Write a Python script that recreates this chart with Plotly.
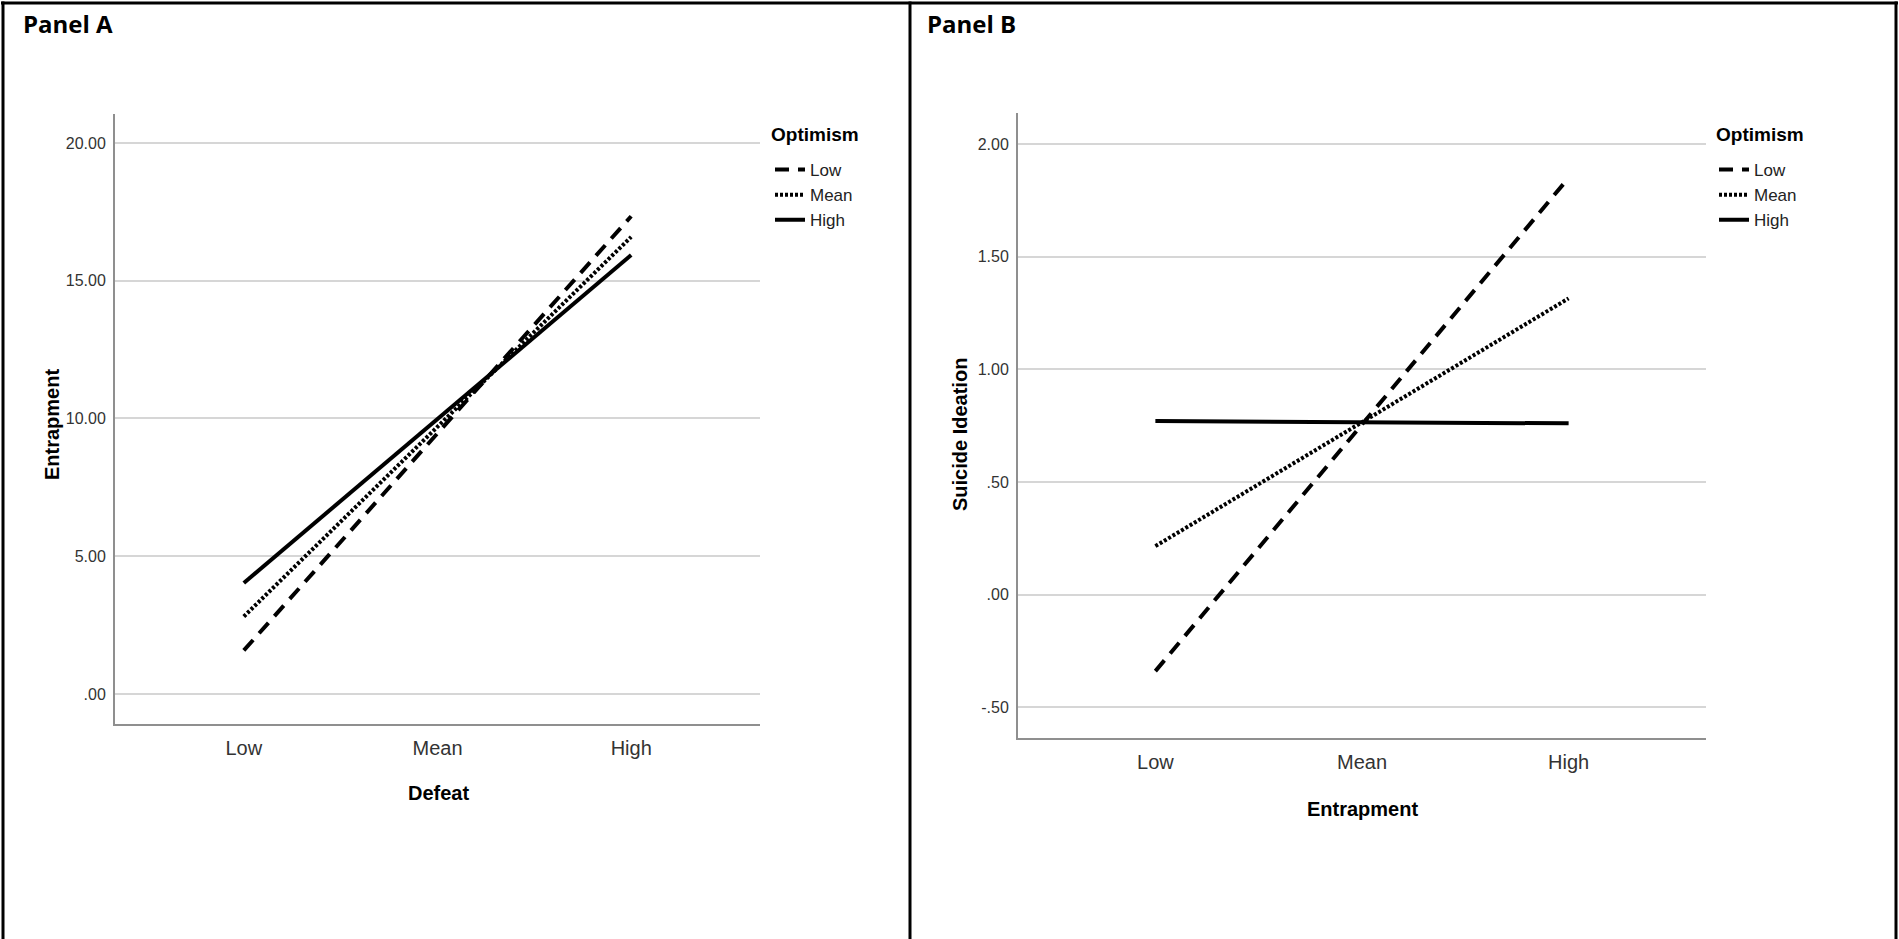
import plotly.graph_objects as go

W, H = 1899, 939

# Simple-slopes data: predicted outcome at Low / Mean / High of the predictor,
# one line per level of the moderator (Optimism)
levels = ["Low", "Mean", "High"]
optimism_groups = ["Low", "Mean", "High"]

# Panel A: Defeat -> Entrapment
entrap_low_opt = [1.58, 9.46, 17.34]
entrap_mean_opt = [2.81, 9.70, 16.59]
entrap_high_opt = [4.03, 9.98, 15.93]

# Panel B: Entrapment -> Suicide Ideation
si_low_opt = [-0.34, 0.755, 1.85]
si_mean_opt = [0.215, 0.765, 1.315]
si_high_opt = [0.77, 0.765, 0.76]

a_ticks = [0, 5, 10, 15, 20]
a_ticktext = [".00", "5.00", "10.00", "15.00", "20.00"]
b_ticks = [-0.5, 0, 0.5, 1.0, 1.5, 2.0]
b_ticktext = ["-.50", ".00", ".50", "1.00", "1.50", "2.00"]

SANS = "Liberation Sans, Arial, sans-serif"
styles = {
    "Low": dict(dash="14px,9px", width=4),
    "Mean": dict(dash="3px,2px", width=4),
    "High": dict(dash="solid", width=4),
}


def px(x):
    return x / W


def py(y):
    return 1 - y / H


fig = go.Figure()

for name, vals in zip(optimism_groups, [entrap_low_opt, entrap_mean_opt, entrap_high_opt]):
    fig.add_trace(go.Scatter(
        x=levels, y=vals, mode="lines", name=name,
        line=dict(color="#000000", **styles[name]),
        xaxis="x", yaxis="y", legend="legend", hoverinfo="skip",
    ))

for name, vals in zip(optimism_groups, [si_low_opt, si_mean_opt, si_high_opt]):
    fig.add_trace(go.Scatter(
        x=levels, y=vals, mode="lines", name=name,
        line=dict(color="#000000", **styles[name]),
        xaxis="x2", yaxis="y2", legend="legend2", hoverinfo="skip",
    ))

axis_common = dict(
    showline=True, linecolor="#8f8f8f", linewidth=2, mirror=False,
    ticks="", zeroline=False, fixedrange=True,
)
xcat = dict(
    type="category", categoryorder="array", categoryarray=levels,
    range=[-0.665, 2.665], showgrid=False,
    tickfont=dict(family=SANS, size=20, color="#333333"),
    ticklabelstandoff=5,
    **axis_common,
)
ygrid = dict(
    showgrid=True, gridcolor="#d6d6d6", gridwidth=2,
    tickfont=dict(family=SANS, size=16, color="#333333"),
    ticklabelstandoff=4,
    **axis_common,
)

fig.update_layout(
    width=W, height=H,
    margin=dict(l=0, r=0, t=0, b=0),
    paper_bgcolor="white", plot_bgcolor="white",
    showlegend=True,
    xaxis=dict(domain=[px(115), px(760)], anchor="y", **xcat),
    yaxis=dict(domain=[py(724), py(114)], anchor="x", range=[-1.09, 21.05],
               tickvals=a_ticks, ticktext=a_ticktext, **ygrid),
    xaxis2=dict(domain=[px(1018), px(1706)], anchor="y2", **xcat),
    yaxis2=dict(domain=[py(738), py(113)], anchor="x2", range=[-0.637, 2.138],
                tickvals=b_ticks, ticktext=b_ticktext, **ygrid),
)

legend_common = dict(
    xanchor="left", yanchor="top",
    bgcolor="rgba(0,0,0,0)", borderwidth=0,
    itemwidth=30, tracegroupgap=0,
    font=dict(family=SANS, size=17, color="#222222"),
)
fig.update_layout(
    legend=dict(x=px(770), y=py(152), **legend_common),
    legend2=dict(x=px(1714), y=py(152), **legend_common),
)

# Panel captions, legend headings, axis titles
annotations = [
    dict(text="<b>Panel A</b>", x=px(21), y=py(5), xanchor="left", yanchor="top",
         font=dict(family="Open Sans, sans-serif", size=24, color="#000000")),
    dict(text="<b>Panel B</b>", x=px(925), y=py(5), xanchor="left", yanchor="top",
         font=dict(family="Open Sans, sans-serif", size=24, color="#000000")),
    dict(text="<b>Optimism</b>", x=px(769), y=py(135), xanchor="left", yanchor="middle",
         font=dict(family=SANS, size=19, color="#000000")),
    dict(text="<b>Optimism</b>", x=px(1714), y=py(135), xanchor="left", yanchor="middle",
         font=dict(family=SANS, size=19, color="#000000")),
    dict(text="<b>Defeat</b>", x=px(438), y=py(793), xanchor="center", yanchor="middle",
         font=dict(family=SANS, size=20, color="#000000")),
    dict(text="<b>Entrapment</b>", x=px(1362), y=py(809), xanchor="center", yanchor="middle",
         font=dict(family=SANS, size=20, color="#000000")),
    dict(text="<b>Entrapment</b>", x=px(52), y=py(425), textangle=-90,
         xanchor="center", yanchor="middle",
         font=dict(family=SANS, size=20, color="#000000")),
    dict(text="<b>Suicide Ideation</b>", x=px(960), y=py(434), textangle=-90,
         xanchor="center", yanchor="middle",
         font=dict(family=SANS, size=20, color="#000000")),
]
for a in annotations:
    a.update(xref="paper", yref="paper", showarrow=False)
fig.update_layout(annotations=annotations)

# Table frame around the two panels
frame = dict(type="line", xref="paper", yref="paper", line=dict(color="#000000", width=3))
fig.update_layout(shapes=[
    dict(x0=px(1), x1=px(1898), y0=py(3), y1=py(3), **frame),
    dict(x0=px(3), x1=px(3), y0=py(1.5), y1=-0.01, **frame),
    dict(x0=px(910), x1=px(910), y0=py(1.5), y1=-0.01, **frame),
    dict(x0=px(1896), x1=px(1896), y0=py(1.5), y1=-0.01, **frame),
])

fig.write_html("out.html", config={"displayModeBar": False, "staticPlot": True})
